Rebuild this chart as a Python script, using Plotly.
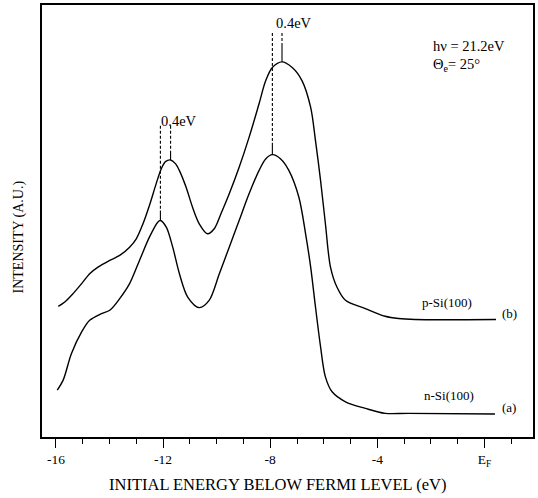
import plotly.graph_objects as go

# ---- data (energies in eV below E_F, intensity in arbitrary units) ----
energy_b = [-15.91, -15.67, -15.36, -15.04, -14.74, -14.43, -13.99, -13.62, -13.25, -13.00,
            -12.75, -12.51, -12.26, -12.07, -11.91, -11.72, -11.54, -11.39, -11.14, -10.90,
            -10.65, -10.34, -10.09, -9.84, -9.53, -9.16, -8.79, -8.42, -8.17, -7.92,
            -7.56, -7.18, -6.81, -6.49, -6.31, -6.12, -5.94, -5.75, -5.51, -5.19,
            -4.45, -3.71, -3.21, -2.59, 0.43]
intensity_b = [134, 138.3, 146.7, 156.7, 166.7, 173.3, 180, 185, 193.3, 201.7,
               216.7, 235, 256.7, 271.7, 279, 280.7, 277, 270, 253.3, 233.3,
               216.7, 206.7, 211.7, 226.7, 246.7, 273.3, 303.3, 336.7, 360, 373.3,
               379, 373.3, 360, 333.3, 300, 260, 216.7, 173.3, 153.3, 140,
               131.7, 124, 121.7, 120.7, 120.7]

energy_a = [-15.95, -15.73, -15.42, -15.04, -14.74, -14.30, -13.99, -13.62, -13.25, -12.88,
            -12.51, -12.20, -12.10, -11.88, -11.64, -11.39, -11.08, -10.65, -10.28, -9.90,
            -9.53, -9.16, -8.79, -8.42, -8.17, -7.92, -7.61, -7.30, -6.93, -6.68,
            -6.49, -6.31, -6.12, -5.94, -5.69, -5.19, -4.45, -3.71, -2.84, 0.39]
intensity_a = [50, 60, 86.7, 108.3, 120, 126.7, 130, 141.7, 156.7, 180,
               203.3, 218.3, 220, 213.3, 193.3, 166.7, 143.3, 132.7, 140, 166.7,
               193.3, 220, 246.7, 270, 281.7, 286, 281.7, 270, 243.3, 206.7,
               173.3, 133.3, 93.3, 63.3, 48.3, 38.3, 31.7, 26.7, 26.7, 26]

# peak markers: energy, top of dashed line, start of solid part, peak intensity
marker_e = [-12.10, -11.72, -7.92, -7.56]
marker_top = [315, 315, 408, 408]
marker_solid = [230, 290, 298, 395]
marker_peak = [220, 280.7, 286, 379]

tick_vals = [-16, -12, -8, -4, 0]
tick_text = ["-16", "-12", "-8", "-4", "E<sub>F</sub>"]

FONT = "Liberation Serif"
fig = go.Figure()

fig.add_trace(go.Scatter(x=energy_b, y=intensity_b, mode="lines",
                         line=dict(color="black", width=1.4, shape="spline", smoothing=0.9),
                         hoverinfo="skip"))
fig.add_trace(go.Scatter(x=energy_a, y=intensity_a, mode="lines",
                         line=dict(color="black", width=1.4, shape="spline", smoothing=0.9),
                         hoverinfo="skip"))

for e, top, sol, pk in zip(marker_e, marker_top, marker_solid, marker_peak):
    fig.add_trace(go.Scatter(x=[e, e], y=[top, sol], mode="lines",
                             line=dict(color="black", width=1.1, dash="3px,2px"), hoverinfo="skip"))
    fig.add_trace(go.Scatter(x=[e, e], y=[sol, pk], mode="lines",
                             line=dict(color="black", width=1.1), hoverinfo="skip"))

txt = dict(family=FONT, size=13, color="black")
big = dict(family=FONT, size=14.5, color="black")
ann = [
    dict(x=-7.12, y=418, text="0.4eV", showarrow=False, font=big),
    dict(x=-11.39, y=320, text="0.4eV", showarrow=False, font=big),
    dict(x=-1.985, y=395, text="hν = 21.2eV", showarrow=False, font=big, xanchor="left"),
    dict(x=-1.985, y=376, text="Θ<sub>e</sub>= 25°", showarrow=False, font=big, xanchor="left"),
    dict(x=-1.39, y=138, text="p-Si(100)", showarrow=False, font=txt),
    dict(x=0.58, y=127, text="(b)", showarrow=False, font=txt, xanchor="left"),
    dict(x=-1.34, y=45, text="n-Si(100)", showarrow=False, font=txt),
    dict(x=0.58, y=33, text="(a)", showarrow=False, font=txt, xanchor="left"),
    dict(x=-0.0467, y=0.462, xref="paper", yref="paper", text="INTENSITY (A.U.)",
         xanchor="center", yanchor="middle",
         textangle=-90, showarrow=False, font=dict(family=FONT, size=14, color="black")),
    dict(x=0.479, y=-0.111, xref="paper", yref="paper", xanchor="center", yanchor="middle",
         text="INITIAL ENERGY BELOW FERMI LEVEL (eV)", showarrow=False,
         font=dict(family=FONT, size=16.5, color="black")),
]

fig.update_layout(
    width=538, height=498,
    margin=dict(l=42, r=3, t=4, b=61),
    plot_bgcolor="white", paper_bgcolor="white",
    showlegend=False,
    annotations=ann,
    xaxis=dict(range=[-16.52, 1.81], tickvals=tick_vals, ticktext=tick_text,
               ticks="outside", ticklen=9, tickwidth=1.2, tickcolor="black",
               minor=dict(dtick=1, tick0=0, ticks="outside", ticklen=5, tickwidth=1, tickcolor="black"),
               showline=True, linecolor="black", linewidth=1.5, mirror=True,
               showgrid=False, zeroline=False,
               tickfont=dict(family=FONT, size=13.5, color="black")),
    yaxis=dict(range=[3, 436], showticklabels=False, ticks="",
               showline=True, linecolor="black", linewidth=1.5, mirror=True,
               showgrid=False, zeroline=False),
)

fig.write_html("out.html", config={"displayModeBar": False},
               post_script="document.body.style.margin='0';document.body.style.overflow='hidden';")
